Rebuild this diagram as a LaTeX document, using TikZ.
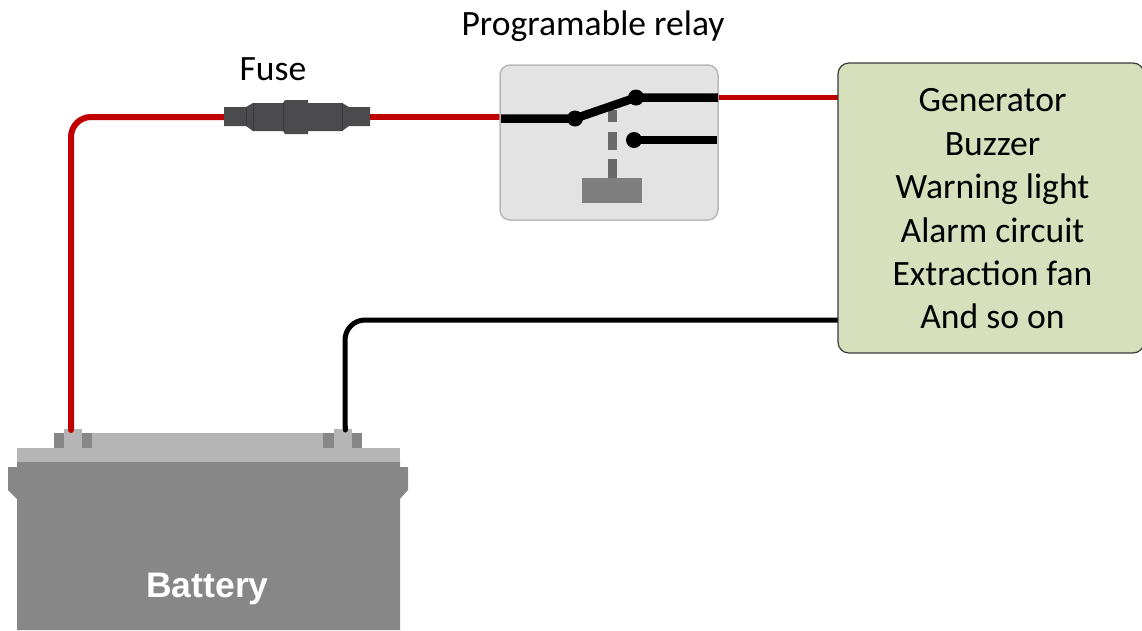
\documentclass[tikz,border=0pt]{standalone}
\usepackage{fontspec}
\setmainfont{Carlito}
\newfontfamily\arialfont{Liberation Sans}
\definecolor{wirered}{HTML}{C00000}
\definecolor{batbody}{HTML}{878787}
\definecolor{batlid}{HTML}{B5B5B5}
\definecolor{fusegrey}{HTML}{4B4B4D}
\definecolor{relayfill}{HTML}{E3E3E3}
\definecolor{relayedge}{HTML}{B9B9B9}
\definecolor{loadfill}{HTML}{D7E0BC}
\definecolor{loadedge}{HTML}{3A3A3A}
\definecolor{coil}{HTML}{7F7F7F}
\definecolor{rod}{HTML}{6A6A6A}
\tikzset{
  redwire/.style={draw=wirered,line width=6pt,rounded corners=20pt,line cap=round},
  redthin/.style={draw=wirered,line width=5pt},
  blackwire/.style={draw=black,line width=5pt,rounded corners=20pt,line cap=round},
  swline/.style={draw=black,line width=8.5pt},
  dot/.style={circle,fill=black,minimum size=16pt,inner sep=0pt},
  label/.style={font=\fontsize{35.6}{36}\selectfont,text=black,inner sep=0pt},
  pin/.style={fill=batbody,draw=none},
  post/.style={fill=batlid,draw=none}
}
\begin{document}
\begin{tikzpicture}[x=1pt,y=-1pt]
\useasboundingbox (0,0) rectangle (1142,630);
% named anchor points
\coordinate (plus) at (71,430);
\coordinate (minus) at (345,430);
\coordinate (fuseL) at (224,117);
\coordinate (fuseR) at (370,117);
\coordinate (relayIn) at (501,117);
\coordinate (relayOut) at (718,97.5);
\coordinate (loadIn) at (838,97.5);
\coordinate (loadRet) at (838,320);
% wires under shapes
\draw[redwire] (plus) -- (71,117) -- (fuseL);
\draw[redwire,line cap=butt] (fuseR) -- (relayIn);
\draw[redthin] (relayOut) -- (loadIn);
\draw[blackwire] (loadRet) -- (345,320) -- (minus);
% fuse
\fill[fusegrey] (224,107) -- (246,107) -- (253,103) -- (283,103) -- (285,100) -- (308,100) -- (308,103) -- (342,103) -- (349,107) -- (370,107) -- (370,126) -- (349,126) -- (342,131) -- (308,131) -- (308,134) -- (285,134) -- (283,131) -- (253,131) -- (246,126) -- (224,126) -- cycle;
\draw[black!25!fusegrey,line width=0.8pt] (246,107) -- (246,126) (253,103) -- (253,131) (283,103) -- (283,131) (342,103) -- (342,131);
% relay
\node[draw=relayedge,fill=relayfill,line width=1.5pt,rounded corners=10pt,minimum width=218pt,minimum height=155pt,inner sep=0pt] (relay) at (609,142.5) {};
\fill[rod] (607.5,110) rectangle (616.5,122);
\fill[rod] (607.5,132) rectangle (616.5,150);
\fill[rod] (607.5,159) rectangle (616.5,178);
\node[fill=coil,minimum width=60pt,minimum height=25pt,inner sep=0pt] (coilbox) at (612,190.5) {};
\node[dot] (pivot) at (575,118.5) {};
\node[dot] (contactA) at (636,97.5) {};
\node[dot] (contactB) at (634,140) {};
\draw[swline] (relayIn |- pivot) -- (pivot.center) -- (contactA.center) -- (relayOut);
\draw[swline] (contactB.center) -- (717,140);
% load box
\node[draw=loadedge,fill=loadfill,line width=1.2pt,rounded corners=11pt,minimum width=306pt,minimum height=290pt,inner sep=0pt] (load) at (991,208) {};
\node[label,align=center,font=\fontsize{35.6}{43.4}\selectfont] (loadtext) at (992.5,209) {Generator\\Buzzer\\Warning light\\Alarm circuit\\Extraction fan\\And so on};
% battery
\fill[batbody] (17,462) -- (17,467) -- (8,467) -- (8,490) -- (17,499) -- (17,630) -- (400,630) -- (400,499) -- (408,490) -- (408,467) -- (400,467) -- (400,462) -- cycle;
\fill[batlid] (17,448) rectangle (400,462);
\fill[batlid] (54,433) rectangle (362,448);
\fill[pin] (54,433) rectangle (64,448);
\fill[pin] (82,433) rectangle (92,448);
\fill[pin] (323,433) rectangle (334,448);
\fill[pin] (352,433) rectangle (362,448);
\fill[post] (64,429) rectangle (82,448);
\fill[post] (334,429) rectangle (352,448);
\draw[wirered,line width=6pt,line cap=round] (71,427) -- (plus);
\draw[black,line width=5pt,line cap=round] (345,427) -- (minus);
% labels
\node[label] (fuselabel) at (273,69) {Fuse};
\node[label] (relaylabel) at (593,26) {Programable relay};
\node[inner sep=0pt,text=white,font=\arialfont\bfseries\fontsize{35.5}{40}\selectfont] (batterylabel) at (207.5,589) {Battery};
\end{tikzpicture}
\end{document}
